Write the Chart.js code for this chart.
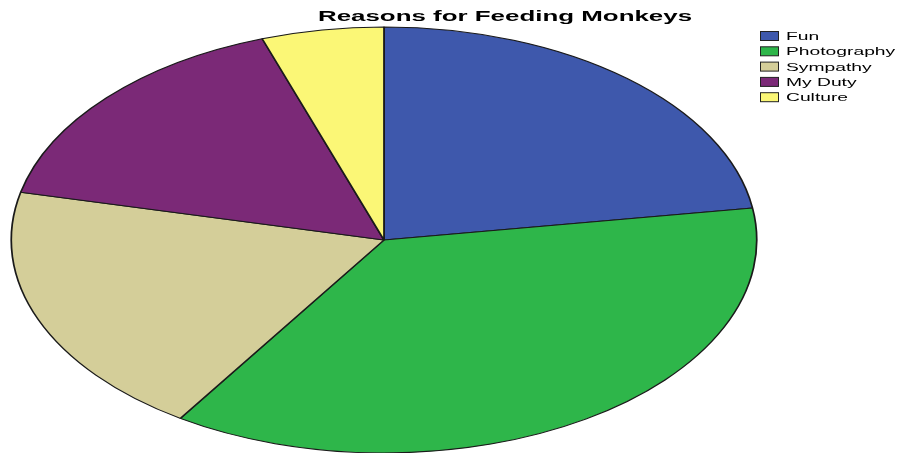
<!DOCTYPE html>
<html>
<head>
<meta charset="utf-8">
<script src="https://cdn.jsdelivr.net/npm/chart.js@4.4.0/dist/chart.umd.min.js"></script>
<style>
  html, body { margin: 0; padding: 0; background: #fff; }
  #wrap { width: 906px; height: 453px; position: relative; }
</style>
</head>
<body>
<div id="wrap"><canvas id="pie"></canvas></div>
<script>
// reasons and their shares (percent of respondents)
const reasons = ['Fun', 'Photography', 'Sympathy', 'My Duty', 'Culture'];
const shares = [22.6, 36.6, 19.4, 16.1, 5.3];
const sliceColors = ['#3E58AC', '#2EB64A', '#D4CE99', '#7B2977', '#FBF776'];
const chartTitle = 'Reasons for Feeding Monkeys';

// the whole chart is drawn wider than tall
const STRETCH = 1.75;

// squash the round pie into an ellipse around its centre
const ellipsePie = {
    id: 'ellipsePie',
    beforeDatasetsDraw(chart) {
        const arc = chart.getDatasetMeta(0).data[0];
        if (!arc) return;
        const ctx = chart.ctx;
        ctx.save();
        ctx.translate(arc.x, arc.y);
        ctx.scale(STRETCH, 1);
        ctx.translate(-arc.x, -arc.y);
    },
    afterDatasetsDraw(chart) {
        chart.ctx.restore();
    }
};

// title and legend, stretched the same way as the pie
const decor = {
    id: 'decor',
    afterDraw(chart) {
        const ctx = chart.ctx;

        ctx.save();
        ctx.fillStyle = '#000';
        ctx.textBaseline = 'alphabetic';
        ctx.textAlign = 'center';
        ctx.font = 'bold 14.8px "Liberation Sans", Arial, sans-serif';
        ctx.translate(505, 21);
        ctx.scale(STRETCH, 1);
        ctx.fillText(chartTitle, 0, 0);
        ctx.restore();

        reasons.forEach((label, i) => {
            const y = 31 + i * 15.3;
            ctx.save();
            ctx.fillStyle = sliceColors[i];
            ctx.strokeStyle = '#222';
            ctx.lineWidth = 1;
            ctx.fillRect(760.5, y + 0.5, 18, 9);
            ctx.strokeRect(760.5, y + 0.5, 18, 9);
            ctx.fillStyle = '#000';
            ctx.textAlign = 'left';
            ctx.textBaseline = 'alphabetic';
            ctx.font = '11px "Liberation Sans", Arial, sans-serif';
            ctx.translate(786, y + 9);
            ctx.scale(STRETCH, 1);
            ctx.fillText(label, 0, 0);
            ctx.restore();
        });
    }
};

new Chart(document.getElementById('pie'), {
    type: 'pie',
    data: {
        labels: reasons,
        datasets: [{
            data: shares,
            backgroundColor: sliceColors,
            borderColor: '#1a1a1a',
            borderWidth: 1,
            clip: false
        }]
    },
    options: {
        responsive: true,
        maintainAspectRatio: false,
        animation: false,
        radius: 213,
        layout: {
            padding: { left: 171, right: 309, top: 27, bottom: 0 }
        },
        plugins: {
            legend: { display: false },
            title: { display: false },
            tooltip: { enabled: false }
        }
    },
    plugins: [ellipsePie, decor]
});
</script>
</body>
</html>
